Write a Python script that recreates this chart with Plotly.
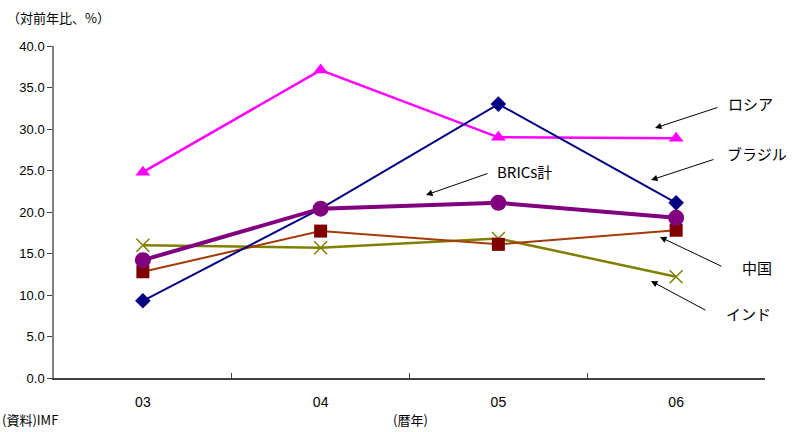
import plotly.graph_objects as go

years = ["03", "04", "05", "06"]
russia = [24.8, 37.1, 29.0, 28.9]
brazil = [9.3, 20.4, 33.0, 21.1]
brics = [14.2, 20.4, 21.1, 19.3]
china = [12.8, 17.7, 16.1, 17.8]
india = [16.0, 15.7, 16.8, 12.2]

y_ticks = [0, 5, 10, 15, 20, 25, 30, 35, 40]

FONT = "Arial, Liberation Sans, Noto Sans CJK JP"
JP = "Noto Sans CJK JP"

fig = go.Figure()

fig.add_trace(go.Scatter(
    x=years, y=india, mode="lines+markers",
    line=dict(color="#808000", width=2.5),
    marker=dict(symbol="x-thin", size=13, color="#808000",
                line=dict(color="#808000", width=1.5)),
    name="インド"))
fig.add_trace(go.Scatter(
    x=years, y=china, mode="lines+markers",
    line=dict(color="#A33A0A", width=2),
    marker=dict(symbol="square", size=13, color="#800000"),
    name="中国"))
fig.add_trace(go.Scatter(
    x=years, y=russia, mode="lines+markers",
    line=dict(color="#FF00FF", width=2.5),
    marker=dict(symbol="triangle-up", size=13, color="#FF00FF"),
    name="ロシア"))
fig.add_trace(go.Scatter(
    x=years, y=brazil, mode="lines+markers",
    line=dict(color="#000080", width=2),
    marker=dict(symbol="diamond", size=12, color="#000080"),
    name="ブラジル"))
fig.add_trace(go.Scatter(
    x=years, y=brics, mode="lines+markers",
    line=dict(color="#800080", width=4),
    marker=dict(symbol="circle", size=16, color="#800080"),
    name="BRICs計"))

# callout labels with arrows (pixel positions converted to paper fractions)
W, H = 805, 432
L, R, T, B = 54, 40, 46, 54
pw, ph = W - L - R, H - T - B


def px(x):
    return (x - L) / pw


def py(y):
    return 1 - (y - T) / ph


callouts = [
    ("ロシア", 750, 103, 719, 107, 655, 128),
    ("ブラジル", 757, 153, 715, 159, 651, 180),
    ("BRICs計", 524, 171, 489, 173, 426, 195),
    ("中国", 757, 267, 723, 267, 660, 237),
    ("インド", 748, 313, 707, 311, 651, 281),
]
for text, tx, ty, ax0, ay0, ax1, ay1 in callouts:
    fig.add_annotation(x=px(tx), y=py(ty), xref="paper", yref="paper",
                       xanchor="center", yanchor="middle",
                       text=text, showarrow=False,
                       font=dict(family=JP, size=15, color="#000000"))
    fig.add_annotation(x=px(ax1), y=py(ay1), xref="paper", yref="paper",
                       ax=ax0 - ax1, ay=ay0 - ay1,
                       text="", showarrow=True, arrowhead=2, arrowsize=1.3,
                       arrowwidth=1, arrowcolor="#000000")

fig.add_annotation(x=px(5), y=py(17), xref="paper", yref="paper",
                   xanchor="left", yanchor="middle",
                   text="（対前年比、%）", showarrow=False,
                   font=dict(family=JP, size=13, color="#000000"))
fig.add_annotation(x=px(0), y=py(419), xref="paper", yref="paper",
                   xanchor="left", yanchor="middle",
                   text="(資料)IMF", showarrow=False,
                   font=dict(family=JP, size=13, color="#000000"))
fig.add_annotation(x=px(410), y=py(419), xref="paper", yref="paper",
                   xanchor="center", yanchor="middle",
                   text="(暦年)", showarrow=False,
                   font=dict(family=JP, size=13, color="#000000"))

fig.update_layout(
    width=W, height=H,
    margin=dict(l=L, r=R, t=T, b=B),
    paper_bgcolor="white", plot_bgcolor="white",
    showlegend=False,
    font=dict(family=FONT, size=13, color="#000000"),
    xaxis=dict(type="category", range=[-0.5, 3.5], tickson="boundaries",
               ticks="inside", ticklen=5, tickcolor="#404040",
               showline=True, linecolor="#404040", linewidth=1.5,
               showgrid=False, zeroline=False, tickfont=dict(size=14),
               ticklabelstandoff=10),
    yaxis=dict(range=[0, 40], tickvals=y_ticks, tickformat=".1f",
               ticks="outside", ticklen=5, tickcolor="#404040",
               showline=True, linecolor="#808080", linewidth=1.5,
               showgrid=False, zeroline=False, tickfont=dict(size=13)),
)

fig.write_html("out.html")
